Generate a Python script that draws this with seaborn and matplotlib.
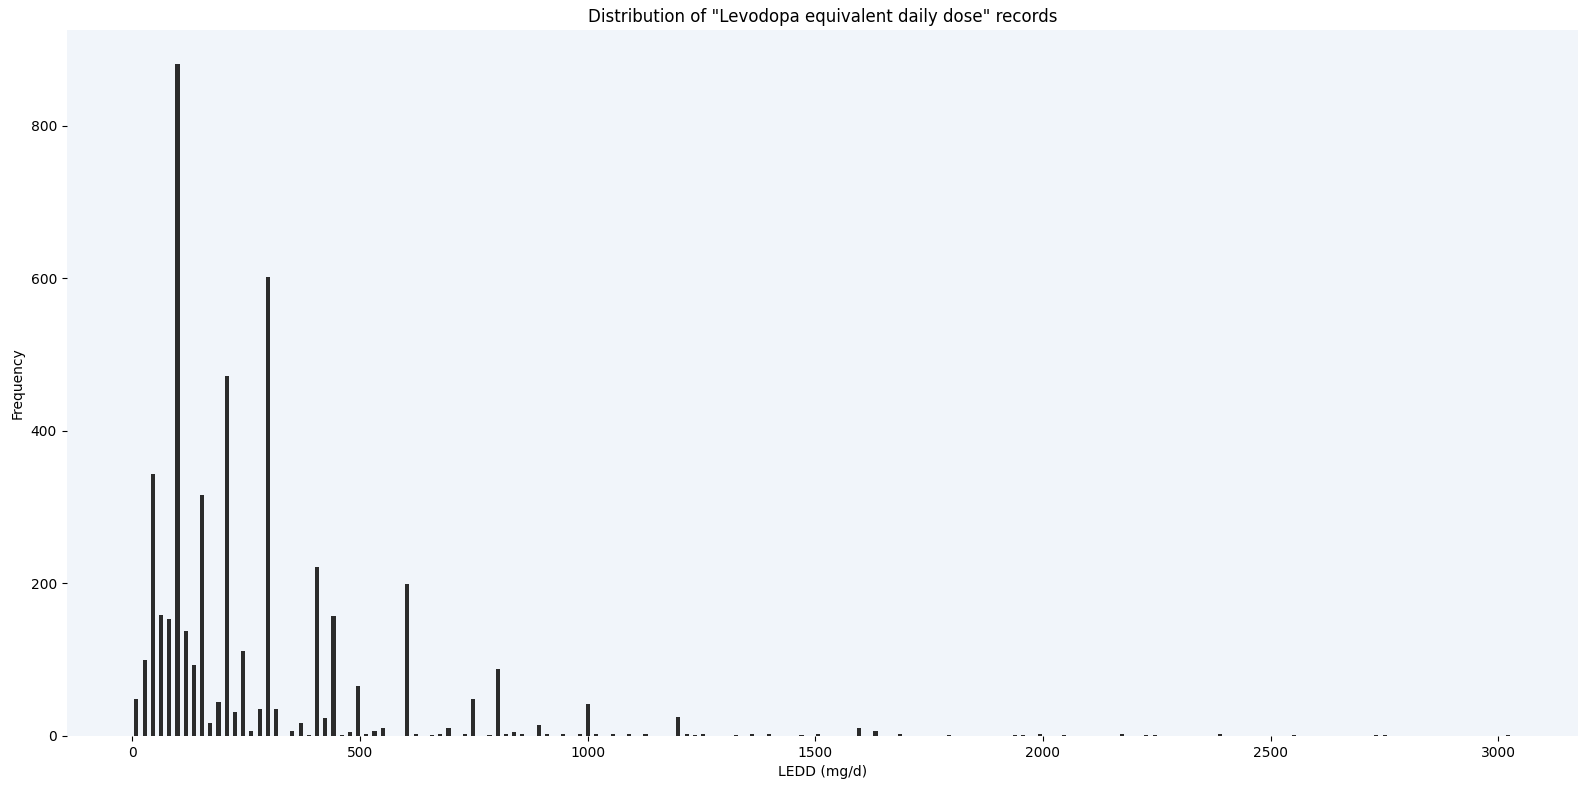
import numpy as np
import pandas as pd
import seaborn as sns
import matplotlib.pyplot as plt

# LEDD values (mg/d) and how many records have each value
ledd_mg = [10, 25, 50, 62.5, 75, 100, 112.5, 137.5, 150, 175, 187.5, 200, 225, 250,
           262.5, 275, 300, 312.5, 350, 375, 387.5, 400, 425, 450, 462.5, 475, 500,
           512.5, 525, 550, 600, 625, 650, 675, 700, 725, 750, 787.5, 800, 825,
           837.5, 850, 900, 912.5, 950, 975, 1000, 1025, 1050, 1090, 1125, 1200,
           1220, 1237.5, 1250, 1325, 1360, 1400, 1475, 1500, 1600, 1635, 1690, 1800,
           1940, 1950, 2000, 2050, 2175, 2225, 2250, 2390, 2550, 2735, 2750, 3020]
n_records = [48, 99, 344, 158, 154, 881, 137, 93, 316, 17, 45, 472, 31, 111,
             7, 36, 602, 35, 7, 17, 1, 222, 23, 157, 1, 5, 65,
             3, 6, 11, 199, 2, 1, 3, 10, 3, 49, 1, 88, 3,
             5, 2, 15, 3, 2, 2, 42, 2, 3, 3, 2, 25,
             3, 1, 3, 1, 2, 3, 1, 3, 10, 7, 2, 1,
             1, 1, 3, 1, 2, 1, 1, 2, 1, 1, 1, 1]

df = pd.DataFrame({'LEDD': ledd_mg, 'count': n_records})

fig, ax = plt.subplots(figsize=(15.89, 7.89), dpi=100)
fig.subplots_adjust(left=0.042, right=0.993, top=0.9615, bottom=0.0672)
ax.set_facecolor('#f1f5fa')

sns.histplot(data=df, x='LEDD', weights='count', bins=168, binrange=(0, 3030),
             shrink=0.5, color='#2b2b2b', alpha=1, linewidth=0, ax=ax)

for side in ['top', 'right', 'left', 'bottom']:
    ax.spines[side].set_visible(False)

ax.set_xlim(-144, 3175)
ax.set_yticks([0, 200, 400, 600, 800])
ax.set_title('Distribution of "Levodopa equivalent daily dose" records')
ax.set_xlabel('LEDD (mg/d)')
ax.set_ylabel('Frequency')

plt.savefig('out.png', dpi=100)
